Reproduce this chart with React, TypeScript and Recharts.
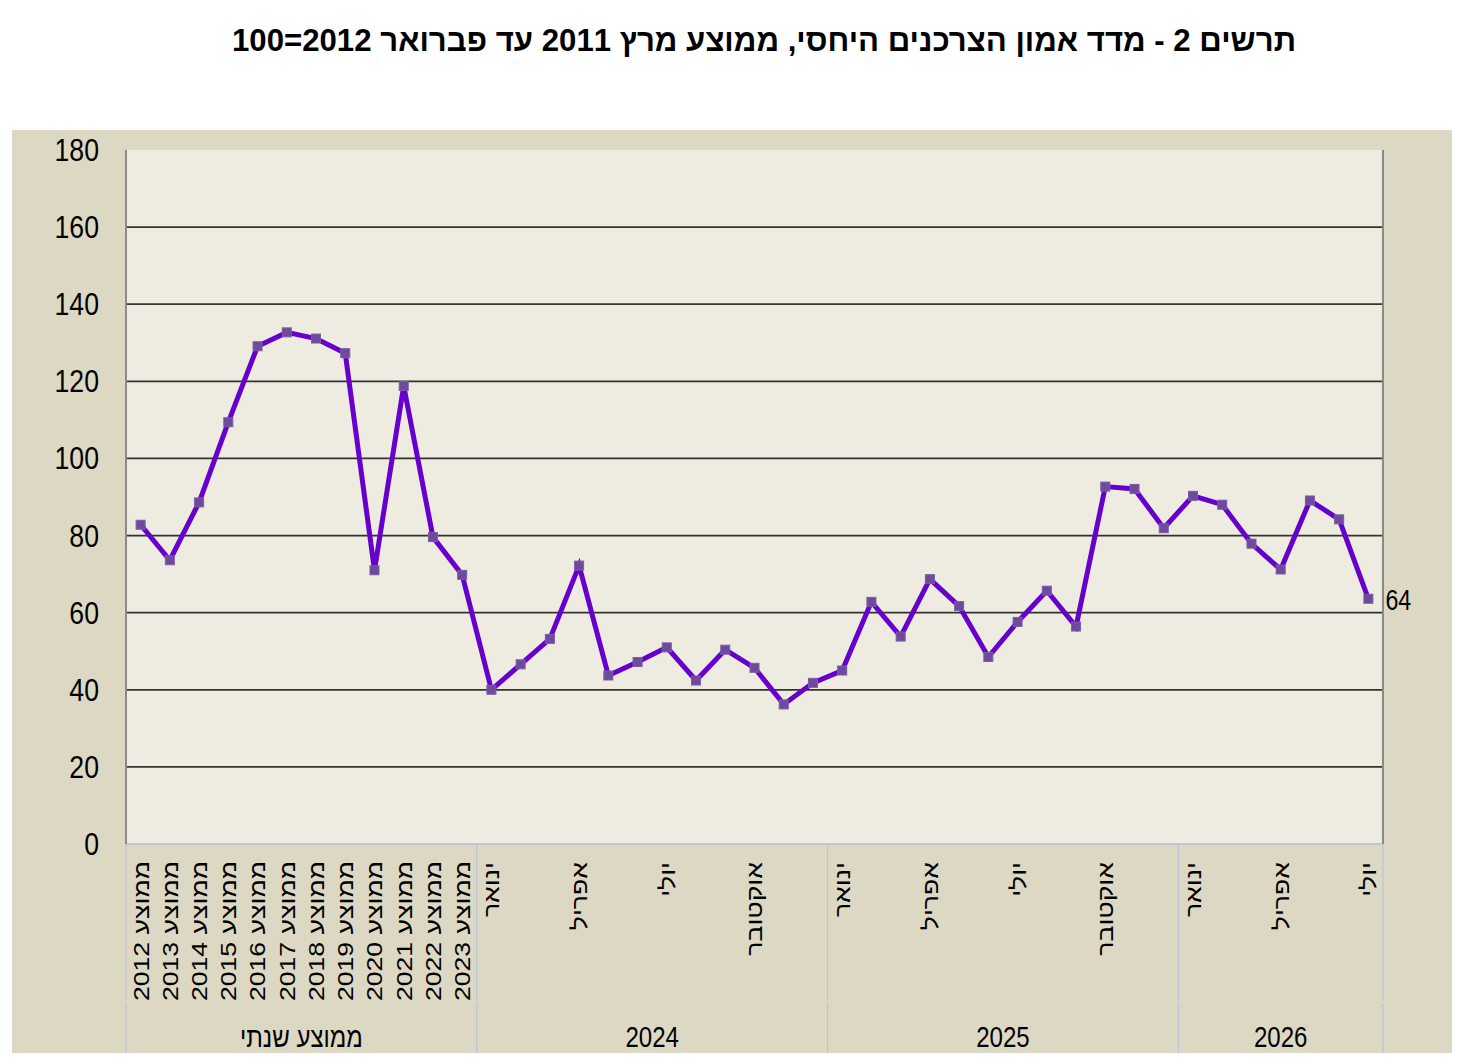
import React from 'react';
import { LineChart, Line, XAxis, YAxis, CartesianGrid, LabelList } from 'recharts';

// ---------- data ----------
const TITLE = 'תרשים 2 - מדד אמון הצרכנים היחסי, ממוצע מרץ 2011 עד פברואר 2012=100';

const annualLabels = [
  'ממוצע 2012', 'ממוצע 2013', 'ממוצע 2014', 'ממוצע 2015', 'ממוצע 2016', 'ממוצע 2017',
  'ממוצע 2018', 'ממוצע 2019', 'ממוצע 2020', 'ממוצע 2021', 'ממוצע 2022', 'ממוצע 2023',
];
const annualValues = [82.8, 73.6, 88.6, 109.4, 129.1, 132.7, 131.1, 127.3, 71.0, 118.8, 79.6, 69.8];

const monthNames = [
  'ינואר', 'פברואר', 'מרץ', 'אפריל', 'מאי', 'יוני',
  'יולי', 'אוגוסט', 'ספטמבר', 'אוקטובר', 'נובמבר', 'דצמבר',
];
const values2024 = [40.0, 46.6, 53.2, 72.2, 43.7, 47.2, 51.0, 42.4, 50.4, 45.7, 36.2, 41.8];
const values2025 = [45.0, 62.8, 53.8, 68.7, 61.7, 48.5, 57.6, 65.7, 56.4, 92.7, 92.1, 81.9];
const values2026 = [90.3, 88.0, 77.9, 71.2, 89.1, 84.2, 63.6];

const groupLabels = ['ממוצע שנתי', '2024', '2025', '2026'];
const yTicks = [0, 20, 40, 60, 80, 100, 120, 140, 160, 180];

// ---------- table built from the arrays ----------
type Row = {
  key: string;
  label: string;
  value: number;
  group: number;
  annual: boolean;
  show: boolean;
  groupStart: boolean;
  groupSize: number;
};

const groupDefs = [
  { labels: annualLabels, values: annualValues, every: 1 },
  { labels: monthNames, values: values2024, every: 3 },
  { labels: monthNames, values: values2025, every: 3 },
  { labels: monthNames, values: values2026, every: 3 },
];

const rows: Row[] = [];
groupDefs.forEach((g, gi) => {
  g.values.forEach((v, i) => {
    rows.push({
      key: `${gi}-${i}`,
      label: g.labels[i],
      value: v,
      group: gi,
      annual: gi === 0,
      show: i % g.every === 0,
      groupStart: i === 0,
      groupSize: g.values.length,
    });
  });
});

// ---------- layout ----------
const W = 1444;
const H = 1046;
const PLOT_LEFT = 118;
const PLOT_TOP = 142;
const PLOT_RIGHT = 1375;
const PLOT_BOTTOM = 836;
const PLOT_W = PLOT_RIGHT - PLOT_LEFT;
const BAND = PLOT_W / rows.length;

const FONT = '"Liberation Sans", Arial, sans-serif';
const BG = '#DDD8C3';
const PLOT_BG = '#EEEBE0';
const SEP = '#B4C0D6';
const BORDER = '#8A8A8A';
const LINE = '#6600CC';

const YTick = (props: any) => {
  const { x, y, payload } = props;
  return (
    <text
      transform={`translate(${x - 27},${y}) scale(0.86,1)`}
      textAnchor="end"
      dy="0.355em"
      fontSize={31}
      fontFamily={FONT}
      fill="#000"
    >
      {payload.value}
    </text>
  );
};

const XTick = (props: any) => {
  const { x, y, payload } = props;
  const i = payload && payload.index != null ? payload.index : props.index;
  const row = rows[i];
  if (!row) return <g />;
  const els: any[] = [];
  const left = x - BAND / 2;
  if (row.groupStart) {
    els.push(<line key="s1" x1={left} x2={left} y1={y} y2={y + 157} stroke={SEP} strokeWidth={1} />);
    els.push(<line key="s2" x1={left} x2={left} y1={y + 160} y2={y + 209} stroke={SEP} strokeWidth={1} />);
    const cx = left + (row.groupSize * BAND) / 2;
    els.push(
      <text
        key="g"
        transform={`translate(${cx},${y + 202.5}) scale(0.83,1)`}
        textAnchor="middle"
        fontSize={29}
        fontFamily={FONT}
        fill="#000"
        direction="rtl"
      >
        {groupLabels[row.group]}
      </text>
    );
  }
  if (i === rows.length - 1) {
    const right = x + BAND / 2;
    els.push(<line key="e1" x1={right} x2={right} y1={y} y2={y + 157} stroke={SEP} strokeWidth={1} />);
    els.push(<line key="e2" x1={right} x2={right} y1={y + 160} y2={y + 209} stroke={SEP} strokeWidth={1} />);
  }
  if (row.show) {
    const top = row.annual ? 17 : 18;
    els.push(
      <text
        key="t"
        transform={`translate(${x},${y + top}) rotate(-90) scale(1.21,1)`}
        textAnchor="end"
        dy="0.36em"
        fontSize={22}
        fontFamily={FONT}
        fill="#000"
      >
        {'\u202B' + row.label + '\u202C'}
      </text>
    );
  }
  return <g>{els}</g>;
};

const renderDot = (p: any) => {
  const { cx, cy, index } = p;
  if (cx == null || cy == null) return <g key={`d-${index}`} />;
  return (
    <rect
      key={`d-${index}`}
      x={cx - 4.5}
      y={cy - 4.5}
      width={9}
      height={9}
      fill="#6E4A9C"
      stroke="#7D5BAA"
      strokeWidth={1}
    />
  );
};

const LastLabel = (p: any) => {
  const { x, y, value, index } = p;
  if (index !== rows.length - 1) return null;
  return (
    <text
      transform={`translate(${x + 17},${y + 11}) scale(0.8,1)`}
      textAnchor="start"
      fontSize={29}
      fontFamily={FONT}
      fill="#000"
    >
      {Math.round(value)}
    </text>
  );
};

export default function App() {
  return (
    <div style={{ position: 'relative', width: W, height: H, fontFamily: FONT }}>
      <div
        style={{
          position: 'absolute',
          left: 4,
          top: 122,
          width: 1440,
          height: 923,
          background: BG,
        }}
      />
      <svg width={W} height={80} style={{ position: 'absolute', left: 0, top: 0 }}>
        <text
          x={756}
          y={43}
          textAnchor="middle"
          fontSize={31}
          fontWeight="bold"
          fontFamily={FONT}
          direction="rtl"
          textLength={1064}
          lengthAdjust="spacingAndGlyphs"
          fill="#000"
        >
          {TITLE}
        </text>
      </svg>
      <div style={{ position: 'absolute', left: 0, top: 0 }}>
        <LineChart
          width={W}
          height={H}
          data={rows}
          margin={{ top: PLOT_TOP, right: 0, left: 0, bottom: 0 }}
        >
          <CartesianGrid
            vertical={false}
            horizontalValues={yTicks.slice(1, -1)}
            fill={PLOT_BG}
            fillOpacity={1}
            stroke="#333330"
            strokeWidth={1.8}
          />
          <XAxis
            dataKey="key"
            type="category"
            interval={0}
            height={H - PLOT_BOTTOM}
            padding={{ left: BAND / 2, right: BAND / 2 }}
            tickLine={false}
            tickSize={0}
            tickMargin={0}
            axisLine={{ stroke: SEP, strokeWidth: 1.5 }}
            tick={<XTick />}
          />
          <XAxis
            xAxisId="top"
            orientation="top"
            dataKey="key"
            type="category"
            height={0}
            padding={{ left: BAND / 2, right: BAND / 2 }}
            tick={false}
            tickLine={false}
            axisLine={{ stroke: BORDER, strokeWidth: 2 }}
          />
          <YAxis
            domain={[0, 180]}
            ticks={yTicks}
            interval={0}
            width={PLOT_LEFT}
            tickLine={false}
            tickSize={0}
            tickMargin={0}
            axisLine={{ stroke: BORDER, strokeWidth: 2 }}
            tick={<YTick />}
          />
          <YAxis
            yAxisId="right"
            orientation="right"
            domain={[0, 180]}
            width={W - PLOT_RIGHT}
            tick={false}
            tickLine={false}
            axisLine={{ stroke: BORDER, strokeWidth: 2 }}
          />
          <Line
            dataKey="value"
            type="linear"
            stroke={LINE}
            strokeWidth={5}
            dot={renderDot}
            activeDot={false}
            isAnimationActive={false}
          >
            <LabelList dataKey="value" content={<LastLabel />} />
          </Line>
        </LineChart>
      </div>
    </div>
  );
}
